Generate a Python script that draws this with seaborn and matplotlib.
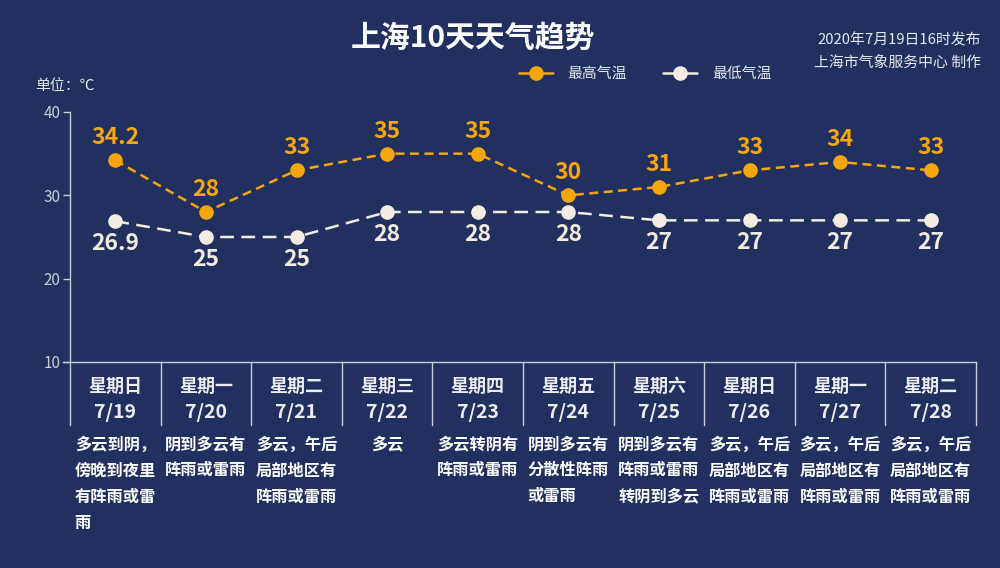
import numpy as np
import pandas as pd
import matplotlib
matplotlib.use("Agg")
import matplotlib.pyplot as plt
import matplotlib.transforms as mtransforms
from matplotlib.lines import Line2D
import seaborn as sns

# datos
weekdays = ["星期日", "星期一", "星期二", "星期三", "星期四", "星期五", "星期六", "星期日", "星期一", "星期二"]
dates = ["7/19", "7/20", "7/21", "7/22", "7/23", "7/24", "7/25", "7/26", "7/27", "7/28"]
t_max = [34.2, 28, 33, 35, 35, 30, 31, 33, 34, 33]
t_min = [26.9, 25, 25, 28, 28, 28, 27, 27, 27, 27]
weather = [
    "多云到阴，\n傍晚到夜里\n有阵雨或雷\n雨",
    "阴到多云有\n阵雨或雷雨",
    "多云，午后\n局部地区有\n阵雨或雷雨",
    "多云",
    "多云转阴有\n阵雨或雷雨",
    "阴到多云有\n分散性阵雨\n或雷雨",
    "阴到多云有\n阵雨或雷雨\n转阴到多云",
    "多云，午后\n局部地区有\n阵雨或雷雨",
    "多云，午后\n局部地区有\n阵雨或雷雨",
    "多云，午后\n局部地区有\n阵雨或雷雨",
]
yticks = [10, 20, 30, 40]

BG = "#22305f"
ORANGE = "#f5a60c"
WHITE = "#f3ece2"
AXCOL = "#c9cdd9"

sns.set_style("dark")
plt.rcParams["font.family"] = ["Noto Sans CJK SC", "DejaVu Sans"]

df = pd.DataFrame({"pos": np.arange(len(dates)), "max": t_max, "min": t_min})

fig = plt.figure(figsize=(10, 5.68), dpi=100, facecolor=BG)
ax = fig.add_axes([0.07, 1 - 362 / 568, 0.906, 250 / 568])
ax.set_facecolor(BG)

sns.lineplot(data=df, x="pos", y="max", ax=ax, color=ORANGE, lw=1.8,
             marker="o", markersize=10.5, markeredgewidth=0, dashes=False)
sns.lineplot(data=df, x="pos", y="min", ax=ax, color=WHITE, lw=1.8,
             marker="o", markersize=10.5, markeredgewidth=0, dashes=False)
ax.lines[0].set_dashes((3.6, 2.2))
ax.lines[1].set_dashes((5.5, 3.0))

for i, (hi, lo) in enumerate(zip(t_max, t_min)):
    ax.annotate(f"{hi:g}", (i, hi), xytext=(0, 8), textcoords="offset points",
                ha="center", va="bottom", color=ORANGE, fontsize=16.5, fontweight="bold")
    ax.annotate(f"{lo:g}", (i, lo), xytext=(0, -8), textcoords="offset points",
                ha="center", va="top", color=WHITE, fontsize=16.5, fontweight="bold")

ax.set_xlim(-0.5, len(dates) - 0.5)
ax.set_ylim(10, 40)
ax.set_yticks(yticks)
ax.set_yticklabels([str(v) for v in yticks], color=AXCOL, fontsize=11)
ax.set_xticks([])
ax.set_xlabel("")
ax.set_ylabel("")
ax.grid(False)
ax.tick_params(axis="y", length=5, color=AXCOL, width=1, pad=2, left=True)
for s in ["top", "right"]:
    ax.spines[s].set_visible(False)
ax.spines["left"].set_color(AXCOL)
ax.spines["bottom"].set_color(AXCOL)
ax.spines["left"].set_linewidth(1)
ax.spines["bottom"].set_linewidth(1)
ax.spines["bottom"].set_bounds(-0.58, len(dates) - 0.5)

# tabla de abajo
tr = mtransforms.blended_transform_factory(ax.transData, fig.transFigure)
def fy(py):
    return 1 - py / 568

for k in range(len(dates) + 1):
    ax.plot([k - 0.5, k - 0.5], [fy(362), fy(425)], transform=tr, color=AXCOL,
            lw=1, clip_on=False)

for i in range(len(dates)):
    ax.text(i, fy(386), weekdays[i], transform=tr, ha="center", va="center",
            color="#ececf2", fontsize=13, fontweight="bold")
    ax.text(i, fy(412), dates[i], transform=tr, ha="center", va="center",
            color="#ececf2", fontsize=14, fontweight="bold")
    ax.text(i, fy(436), weather[i], transform=tr, ha="center", va="top",
            multialignment="left", color="white", fontsize=11.7,
            fontweight="bold", linespacing=1.78)

# textos
fig.text(0.473, 1 - 38 / 568, "上海10天天气趋势", ha="center", va="center",
         color="white", fontsize=21.5, fontweight="bold")
fig.text(0.981, 1 - 40 / 568, "2020年7月19日16时发布", ha="right", va="center",
         color="#e6e8ef", fontsize=10.7)
fig.text(0.981, 1 - 63 / 568, "上海市气象服务中心 制作", ha="right", va="center",
         color="#e6e8ef", fontsize=10.7)
fig.text(0.035, 1 - 86 / 568, "单位：℃", ha="left", va="center",
         color="#e6e8ef", fontsize=10.7)

# leyenda
h1 = Line2D([], [], color=ORANGE, lw=1.8, marker="o", markersize=10.5, markeredgewidth=0)
h2 = Line2D([], [], color=WHITE, lw=1.8, marker="o", markersize=10.5, markeredgewidth=0)
fig.legend([h1, h2], ["最高气温", "最低气温"], loc="center", ncol=2,
           bbox_to_anchor=(0.645, 1 - 74 / 568), frameon=False,
           labelcolor="#e6e8ef", fontsize=10.7, handlelength=2.3,
           columnspacing=2.4, handletextpad=1.0)

fig.savefig("out.png", dpi=100, facecolor=BG)
